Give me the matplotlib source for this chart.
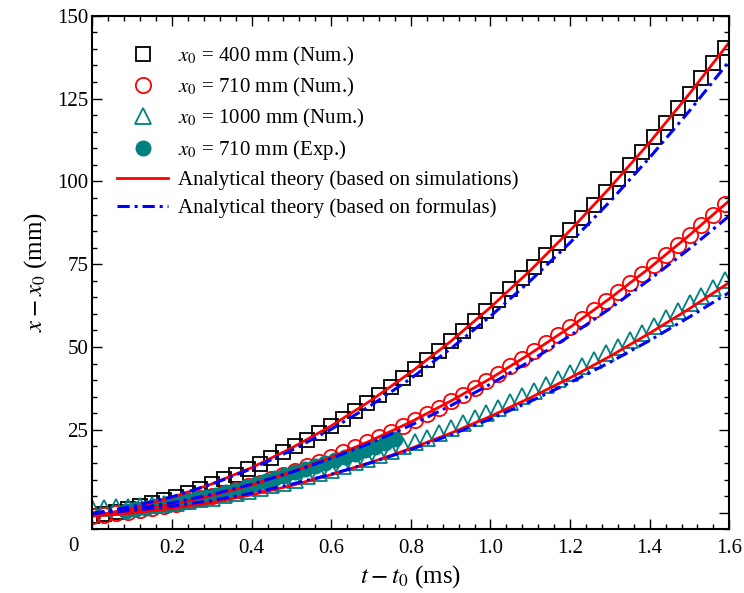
import matplotlib
matplotlib.use("Agg")
import matplotlib.pyplot as plt
import numpy as np
from matplotlib.ticker import MultipleLocator, FixedLocator, FuncFormatter

plt.rcParams['font.family'] = ['Liberation Serif', 'DejaVu Serif']
plt.rcParams['mathtext.fontset'] = 'stix'
plt.rcParams['font.size'] = 15

# simulation markers, t - t0 (ms)
t_num = [0.00, 0.03, 0.06, 0.09, 0.12, 0.15, 0.18, 0.21, 0.24, 0.27,
         0.30, 0.33, 0.36, 0.39, 0.42, 0.45, 0.48, 0.51, 0.54, 0.57,
         0.60, 0.63, 0.66, 0.69, 0.72, 0.75, 0.78, 0.81, 0.84, 0.87,
         0.90, 0.93, 0.96, 0.99, 1.02, 1.05, 1.08, 1.11, 1.14, 1.17,
         1.20, 1.23, 1.26, 1.29, 1.32, 1.35, 1.38, 1.41, 1.44, 1.47,
         1.50, 1.53, 1.56, 1.59]

# x0 = 400 mm (Num.)
num_400 = [-1.0, -0.4, 0.3, 1.1, 1.9, 2.8, 3.8, 4.9, 6.1, 7.3,
           8.7, 10.1, 11.5, 13.1, 14.7, 16.5, 18.3, 20.1, 22.1, 24.1,
           26.2, 28.4, 30.7, 33.1, 35.5, 38.0, 40.6, 43.3, 46.0, 48.8,
           51.7, 54.7, 57.8, 60.9, 64.2, 67.5, 70.8, 74.3, 77.8, 81.5,
           85.2, 88.9, 92.8, 96.7, 100.7, 104.8, 109.0, 113.3, 117.6, 122.0,
           126.5, 131.1, 135.7, 140.4]

# x0 = 710 mm (Num.)
num_710 = [-1.0, -0.6, -0.2, 0.3, 0.8, 1.4, 2.0, 2.7, 3.5, 4.3,
           5.2, 6.1, 7.0, 8.0, 9.1, 10.3, 11.4, 12.7, 14.0, 15.3,
           16.7, 18.2, 19.7, 21.2, 22.8, 24.5, 26.2, 28.0, 29.8, 31.7,
           33.7, 35.6, 37.7, 39.8, 41.9, 44.2, 46.4, 48.7, 51.1, 53.5,
           56.0, 58.5, 61.1, 63.8, 66.5, 69.2, 72.0, 74.9, 77.8, 80.7,
           83.8, 86.8, 89.9, 93.1]

# x0 = 1000 mm (Num.)
num_1000 = [1.4, 1.5, 1.6, 1.8, 2.0, 2.3, 2.5, 3.0, 3.5, 4.0,
            4.6, 5.3, 6.0, 6.7, 7.5, 8.3, 9.1, 10.0, 11.0, 12.0,
            13.0, 14.0, 15.2, 16.3, 17.5, 18.7, 20.0, 21.3, 22.7, 24.1,
            25.5, 27.0, 28.5, 30.1, 31.7, 33.4, 35.1, 36.8, 38.6, 40.4,
            42.3, 44.2, 46.1, 48.1, 50.1, 52.2, 54.3, 56.5, 58.7, 60.9,
            63.2, 65.5, 67.9, 70.3]

# x0 = 710 mm (Exp.)
t_exp = [0.085, 0.110, 0.135, 0.160, 0.185, 0.210, 0.235, 0.260, 0.285, 0.310,
         0.335, 0.360, 0.385, 0.410, 0.435, 0.460, 0.485, 0.510, 0.535, 0.560,
         0.585, 0.610, 0.635, 0.660, 0.685, 0.710, 0.735, 0.760]
exp_710 = [0.6, 1.1, 1.5, 2.0, 2.5, 3.0, 3.6, 4.2, 4.9, 5.5,
           6.3, 7.0, 7.8, 8.6, 9.5, 10.4, 11.3, 12.2, 13.1, 14.0,
           15.0, 15.9, 16.9, 17.8, 18.8, 19.9, 21.0, 22.3]

# analytical theory curves
t_th = [0.0, 0.1, 0.2, 0.3, 0.4, 0.5, 0.6, 0.7, 0.8, 0.9,
        1.0, 1.1, 1.2, 1.3, 1.4, 1.5, 1.6]
sim_400 = [-1.0, 1.3, 4.6, 8.7, 13.6, 19.5, 26.2, 33.9, 42.4, 51.7,
           62.0, 73.1, 85.2, 98.1, 111.8, 126.5, 142.0]
sim_710 = [-1.0, 0.5, 2.5, 5.2, 8.4, 12.3, 16.7, 21.8, 27.4, 33.7,
           40.5, 48.0, 56.0, 64.7, 73.9, 83.8, 94.2]
sim_1000 = [-1.0, -0.1, 1.3, 3.1, 5.4, 8.2, 11.5, 15.2, 19.4, 24.0,
            29.1, 34.7, 40.7, 47.2, 54.2, 61.6, 69.5]
form_400 = [-0.2, 1.9, 4.8, 8.6, 13.3, 18.8, 25.2, 32.4, 40.5, 49.5,
            59.3, 70.0, 81.5, 93.9, 107.2, 121.3, 136.3]
form_710 = [-0.2, 1.1, 3.0, 5.5, 8.6, 12.2, 16.4, 21.1, 26.4, 32.3,
            38.8, 45.8, 53.4, 61.6, 70.4, 79.7, 89.6]
form_1000 = [-0.2, 0.7, 2.0, 3.7, 5.9, 8.6, 11.6, 15.1, 19.1, 23.5,
             28.3, 33.6, 39.3, 45.4, 52.0, 59.1, 66.5]

teal = '#008080'

fig = plt.figure(figsize=(7.44, 5.93), dpi=100)
ax = fig.add_axes([0.1241, 0.1074, 0.8562, 0.8661])

ax.plot(t_num, num_400, ls='none', marker='s', ms=10.3, mfc='none', mec='black', mew=1.3,
        label=r'$x_0$ = 400 mm (Num.)')
ax.plot(t_num, num_710, ls='none', marker='o', ms=11, mfc='none', mec='red', mew=1.3,
        label=r'$x_0$ = 710 mm (Num.)')
ax.plot(t_num, num_1000, ls='none', marker='^', ms=11, mfc='none', mec=teal, mew=1.3,
        label=r'$x_0$ = 1000 mm (Num.)')
ax.plot(t_exp, exp_710, ls='none', marker='o', ms=10.5, mfc=teal, mec=teal,
        label=r'$x_0$ = 710 mm (Exp.)')

for i, y in enumerate([sim_400, sim_710, sim_1000]):
    ax.plot(t_th, y, color='red', lw=2.0,
            label='Analytical theory (based on simulations)' if i == 0 else None)
for i, y in enumerate([form_400, form_710, form_1000]):
    ax.plot(t_th, y, color='blue', lw=2.2, dashes=(4, 1.6, 1, 1.6),
            label='Analytical theory (based on formulas)' if i == 0 else None)

ax.set_xlim(0, 1.6)
ax.set_ylim(-5, 150)
ax.xaxis.set_major_locator(MultipleLocator(0.2))
ax.xaxis.set_minor_locator(MultipleLocator(0.04))
ax.yaxis.set_major_locator(FixedLocator([0, 25, 50, 75, 100, 125, 150]))
ax.yaxis.set_minor_locator(MultipleLocator(5))
ax.xaxis.set_major_formatter(FuncFormatter(lambda v, p: '' if abs(v) < 1e-9 else f'{v:.1f}'))
ax.yaxis.set_major_formatter(FuncFormatter(lambda v, p: '' if abs(v) < 1e-9 else f'{v:.0f}'))

ax.tick_params(which='both', direction='in', top=True, right=True, width=1.0, labelsize=15)
ax.tick_params(which='major', length=7.4)
ax.tick_params(which='minor', length=3.8)
ax.tick_params(axis='x', pad=7)
ax.tick_params(axis='y', pad=3)
for s in ax.spines.values():
    s.set_linewidth(1.5)

ax.text(-0.029, -0.034, '0', transform=ax.transAxes, ha='center', va='center', fontsize=15)

ax.set_xlabel(r'$t - t_0$ (ms)', fontsize=18, labelpad=4)
ax.set_ylabel(r'$x - x_0$ (mm)', fontsize=18, labelpad=6)

ax.legend(loc='upper left', bbox_to_anchor=(0.039, 0.944), frameon=False, borderpad=0,
          borderaxespad=0, handlelength=2.45, handletextpad=0.45, labelspacing=0.39,
          fontsize=15)

fig.savefig('out.png', dpi=100)
